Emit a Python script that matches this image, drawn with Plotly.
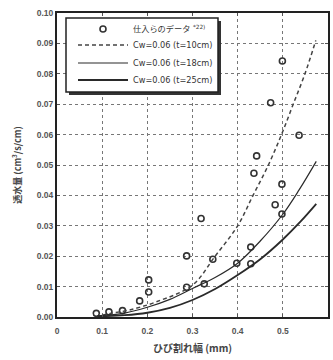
import plotly.graph_objects as go

# measured data (仕入らのデータ)
obs_x = [0.087, 0.115, 0.145, 0.183, 0.203, 0.203, 0.287, 0.287, 0.319, 0.326, 0.345,
         0.398, 0.429, 0.429, 0.436, 0.442, 0.483, 0.498, 0.498, 0.473, 0.499, 0.536]
obs_y = [0.0012, 0.0017, 0.0021, 0.0053, 0.0082, 0.0122, 0.0098, 0.0201, 0.0324, 0.0109, 0.0190,
         0.0177, 0.0175, 0.0230, 0.0473, 0.0530, 0.0369, 0.0339, 0.0437, 0.0705, 0.0842, 0.0598]

# curve t=10cm (dashed)
t10_x = [0.10, 0.12, 0.16, 0.22, 0.30, 0.35, 0.40, 0.434, 0.468, 0.497, 0.523, 0.549, 0.573]
t10_y = [0.0006, 0.0012, 0.0023, 0.0050, 0.0105, 0.0200, 0.0300, 0.0400, 0.0500, 0.0600, 0.0700, 0.0800, 0.0910]

# curve t=18cm
t18_x = [0.09, 0.15, 0.20, 0.25, 0.30, 0.35, 0.40, 0.45, 0.50, 0.536, 0.574]
t18_y = [0.0004, 0.0013, 0.0032, 0.0058, 0.0094, 0.0130, 0.0177, 0.0250, 0.0338, 0.0418, 0.0512]

# curve t=25cm
t25_x = [0.09, 0.15, 0.20, 0.25, 0.30, 0.35, 0.40, 0.45, 0.50, 0.54, 0.574]
t25_y = [0.0002, 0.0006, 0.0014, 0.0030, 0.0056, 0.0092, 0.0138, 0.0190, 0.0255, 0.0315, 0.0372]

x_ticks = [0, 0.1, 0.2, 0.3, 0.4, 0.5, 0.6]
x_ticktext = ["0", "0.1", "0.2", "0.3", "0.4", "0.5", "0.6"]
y_ticks = [0.00, 0.01, 0.02, 0.03, 0.04, 0.05, 0.06, 0.07, 0.08, 0.09, 0.10]

line_col = "#2a2a2a"
fig = go.Figure()
fig.add_trace(go.Scatter(x=obs_x, y=obs_y, mode="markers", legend="legend",
                         name="仕入らのデータ <sup>*22)</sup>",
                         marker=dict(symbol="circle-open", size=6, color="#333",
                                     line=dict(width=1.6, color="#333"))))
fig.add_trace(go.Scatter(x=t10_x, y=t10_y, mode="lines", name="Cw=0.06 (t=10cm)", legend="legend2",
                         line=dict(color="#444", width=1.5, dash="4px,3px", shape="spline")))
fig.add_trace(go.Scatter(x=t18_x, y=t18_y, mode="lines", name="Cw=0.06 (t=18cm)", legend="legend3",
                         line=dict(color=line_col, width=1.2, shape="spline")))
fig.add_trace(go.Scatter(x=t25_x, y=t25_y, mode="lines", name="Cw=0.06 (t=25cm)", legend="legend4",
                         line=dict(color=line_col, width=1.8, shape="spline")))

tick_font = dict(family="Liberation Sans, Arial", size=8.5, color="#555", weight="bold")
axis_common = dict(showline=True, linecolor="#222", linewidth=2, mirror="ticks",
                   ticks="inside", ticklen=3, tickcolor="#555",
                   showgrid=True, gridcolor="#777", griddash="dot", gridwidth=1,
                   zeroline=False, tickfont=tick_font, automargin=False)

fig.update_xaxes(range=[0, 0.6], tickvals=x_ticks, ticktext=x_ticktext, ticklabelstandoff=5,
                 title=dict(text="ひび割れ幅 (mm)",
                            font=dict(family="Noto Sans CJK JP", size=10, color="#444", weight="bold"),
                            standoff=10),
                 **axis_common)
fig.update_yaxes(range=[0, 0.10], tickvals=y_ticks, tickformat=".2f",
                 title=dict(text="透水量 (cm<sup>3</sup>/s/cm)",
                            font=dict(family="Noto Sans CJK JP", size=9, color="#444", weight="bold"),
                            standoff=14),
                 **axis_common)

# legend frame and drop shadow drawn as shapes (pixel box approx 66-218 x, 18-92 y)
def px2paper(px, py):
    return (px - 57) / 271, (317 - py) / 304

sx0, sy0 = px2paper(69, 95)
sx1, sy1 = px2paper(221, 21)
fig.add_shape(type="rect", xref="paper", yref="paper", x0=sx0, y0=sy0, x1=sx1, y1=sy1,
              fillcolor="#333", line=dict(width=0), layer="above")
bx0, by0 = px2paper(66, 92)
bx1, by1 = px2paper(218, 18)
fig.add_shape(type="rect", xref="paper", yref="paper", x0=bx0, y0=by0, x1=bx1, y1=by1,
              fillcolor="white", line=dict(width=1.5, color="#222"), layer="above")

legend_font = dict(family="DejaVu Sans, Noto Sans CJK JP", size=8.2, color="#333")
row_centers = [29, 45, 63, 80]
legend_names = ["legend", "legend2", "legend3", "legend4"]
layout_legends = {}
for name, rc in zip(legend_names, row_centers):
    layout_legends[name] = dict(x=(73 - 57) / 271, y=(317 - rc) / 304, xanchor="left", yanchor="middle",
                                bgcolor="rgba(0,0,0,0)", borderwidth=0, font=legend_font,
                                itemwidth=50, tracegroupgap=0)

fig.update_layout(
    width=333, height=360,
    margin=dict(l=57, r=5, t=13, b=43),
    paper_bgcolor="white", plot_bgcolor="white",
    showlegend=True,
    **layout_legends,
)
fig.write_html("out.html", config={"displayModeBar": False},
               post_script="document.body.style.margin='0';")
